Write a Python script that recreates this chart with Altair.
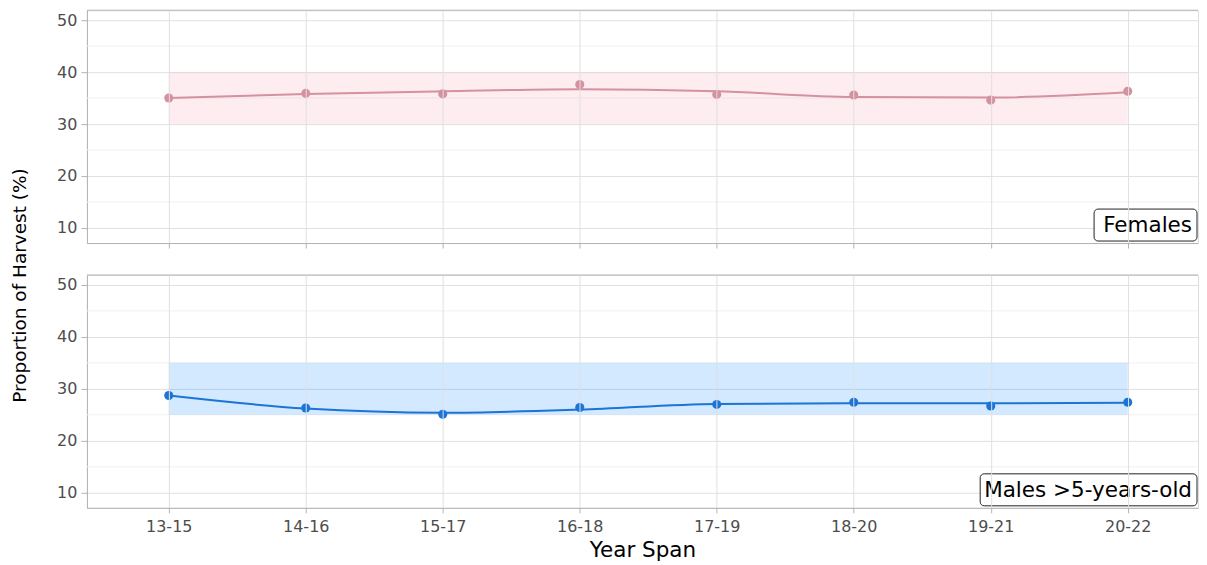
import altair as alt
import pandas as pd

# ---- data ----
spans = ["13-15", "14-16", "15-17", "16-18", "17-19", "18-20", "19-21", "20-22"]
female_obs = [35.0, 35.9, 35.8, 37.6, 35.7, 35.6, 34.6, 36.3]
female_fit = [35.0, 35.8, 36.3, 36.7, 36.3, 35.2, 35.1, 36.1]
male_obs = [28.7, 26.3, 25.1, 26.4, 27.0, 27.4, 26.7, 27.4]
male_fit = [28.7, 26.2, 25.4, 26.0, 27.1, 27.2, 27.2, 27.3]
female_band = [30, 40]
male_band = [25, 35]
major_ticks = [10, 20, 30, 40, 50]
minor_ticks = [15, 25, 35, 45]
y_domain = [7.1, 51.9]

FONT = "DejaVu Sans"
BORDER = "#b3b3b3"
W = 1112
H = 233


def panel(obs, fit, band, line_color, band_color, band_opacity, label, box_left, show_x):
    pts = pd.DataFrame({"span": spans, "value": obs})
    fit_df = pd.DataFrame({"span": spans, "value": fit})
    band_df = pd.DataFrame({"start": [spans[0]], "end": [spans[-1]], "lo": [band[0]], "hi": [band[1]]})
    minor_df = pd.DataFrame({"v": minor_ticks})
    lab_df = pd.DataFrame({"label": [label]})

    xscale = alt.Scale(type="point", domain=spans, padding=0.555, align=0.538)
    yscale = alt.Scale(domain=y_domain, nice=False, zero=False)
    xaxis = alt.Axis(
        title="Year Span" if show_x else None,
        labels=show_x,
        labelAngle=0,
        grid=True,
        gridColor="#e0e0e0",
        domain=True,
        domainColor=BORDER,
        ticks=True,
        tickSize=5,
        tickColor=BORDER,
        labelFontSize=16,
        labelColor="#4d4d4d",
        labelFont=FONT,
        labelPadding=6,
        titleFontSize=21.5,
        titleFontWeight="normal",
        titleFont=FONT,
        titleColor="black",
        titlePadding=5,
    )
    yaxis = alt.Axis(
        title=None,
        values=major_ticks,
        grid=True,
        gridColor="#e0e0e0",
        domain=True,
        domainColor=BORDER,
        tickSize=6,
        tickColor=BORDER,
        labelFontSize=16,
        labelColor="#4d4d4d",
        labelFont=FONT,
        labelPadding=4,
    )

    minor = alt.Chart(minor_df).mark_rule(color="#f1f1f1", strokeWidth=1).encode(
        y=alt.Y("v:Q", scale=yscale, axis=yaxis)
    )
    top_border = alt.Chart(lab_df).mark_rule(color=BORDER, strokeWidth=1).encode(
        x=alt.value(0), x2=alt.value(W), y=alt.value(0)
    )
    rect = alt.Chart(band_df).mark_rect(color=band_color, opacity=band_opacity).encode(
        x=alt.X("start:O", scale=xscale, axis=xaxis),
        x2="end:O",
        y=alt.Y("lo:Q", scale=yscale, axis=yaxis),
        y2="hi:Q",
    )
    line = alt.Chart(fit_df).mark_line(color=line_color, strokeWidth=2, interpolate="monotone").encode(
        x=alt.X("span:O", scale=xscale, axis=xaxis, sort=spans),
        y=alt.Y("value:Q", scale=yscale, axis=yaxis),
    )
    points = alt.Chart(pts).mark_circle(size=82, color=line_color, opacity=1).encode(
        x=alt.X("span:O", scale=xscale, axis=xaxis, sort=spans),
        y=alt.Y("value:Q", scale=yscale, axis=yaxis),
    )
    box = alt.Chart(lab_df).mark_rect(
        fill="white", stroke="#222222", strokeWidth=1, cornerRadius=4
    ).encode(
        x=alt.value(box_left), x2=alt.value(W - 1), y=alt.value(H - 34), y2=alt.value(H - 2)
    )
    text = alt.Chart(lab_df).mark_text(
        align="right", baseline="middle", fontSize=21.5, font=FONT, color="black"
    ).encode(
        text="label:N", x=alt.value(W - 6), y=alt.value(H - 17)
    )
    return alt.layer(minor, top_border, rect, line, points, box, text).properties(width=W, height=H)


top = panel(female_obs, female_fit, female_band, "#d4919f", "#f4a3b5", 0.2, "Females", 1008, False)
bottom = panel(male_obs, male_fit, male_band, "#1c74d6", "#1e90ff", 0.2, "Males >5-years-old", 894, True)

chart = (
    alt.vconcat(top, bottom, spacing=25)
    .properties(
        title=alt.TitleParams(
            text="Proportion of Harvest (%)",
            orient="left",
            anchor="middle",
            fontSize=18.5,
            fontWeight="normal",
            font=FONT,
            color="black",
            offset=27,
        ),
        padding={"top": 1, "left": 2, "right": 0, "bottom": 0},
    )
    .configure_view(stroke=None)
    .configure(background="white")
)

chart.save("out.html", embed_options={"renderer": "svg", "actions": False})
